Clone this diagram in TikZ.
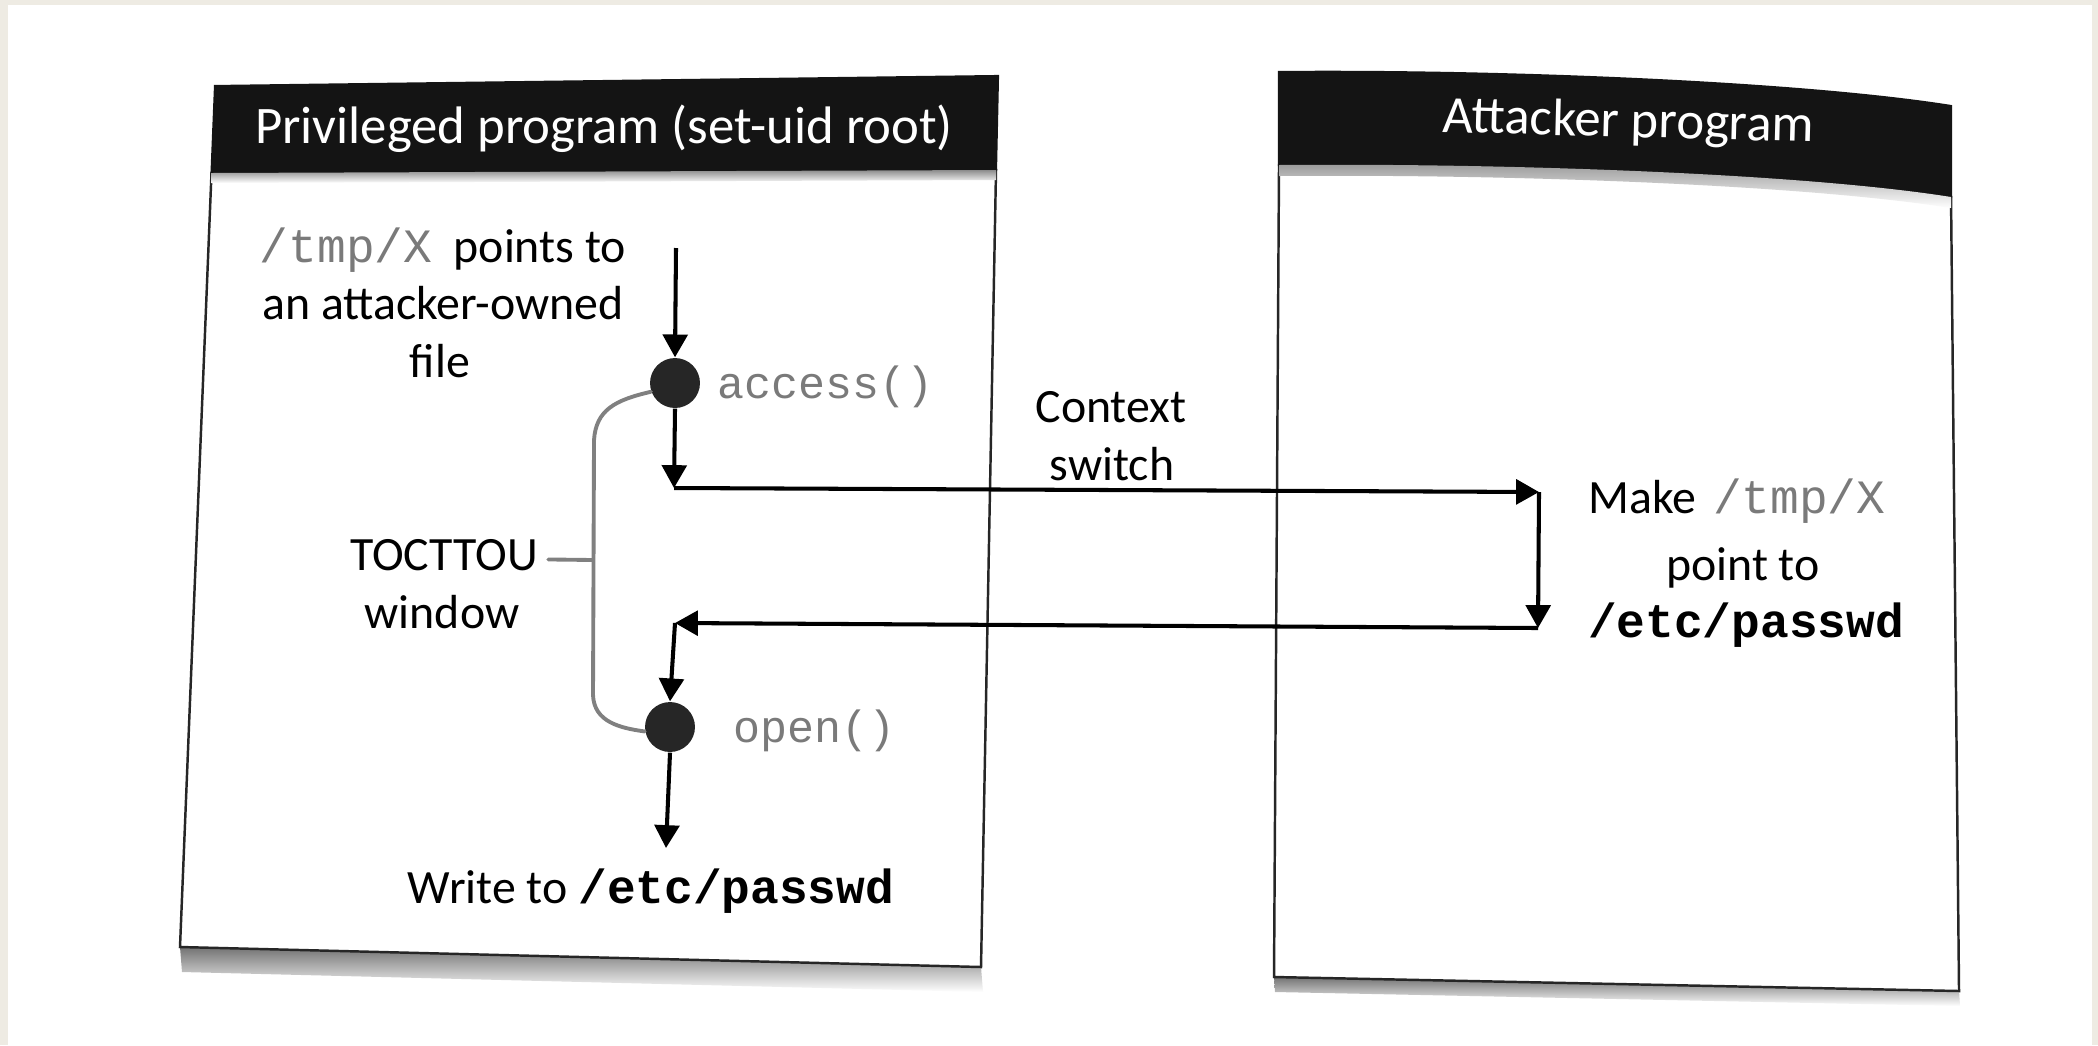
\documentclass[tikz,border=0pt]{standalone}
\usepackage{fontspec}
\setmainfont{Carlito}
\newfontfamily\codefont{Liberation Mono}
\usetikzlibrary{arrows.meta}
\definecolor{paper}{HTML}{EEEBE3}
\definecolor{codegray}{gray}{0.48}

\tikzset{
  frame/.style={draw=black!85, line width=0.7pt, fill=white},
  hdr/.style={fill=black!92, draw=black!92, line width=0.6pt},
  hdrtext/.style={text=white, inner sep=0pt, anchor=base, font=\fontsize{15}{18}\selectfont},
  lbl/.style={inner sep=0pt, anchor=base, font=\fontsize{13.6}{16}\selectfont},
  code/.style={inner sep=0pt, anchor=base west, text=codegray, font=\codefont\fontsize{12.8}{15}\selectfont},
  flow/.style={draw=black, line width=1.15pt, -{Triangle[length=6.5pt,width=7pt]}},
  event/.style={circle, fill=black!85, minimum size=14.2pt, inner sep=0pt},
  bracket/.style={draw=black!50, line width=1.1pt, line cap=round},
  shadowband/.style={top color=black!55, bottom color=white, draw=none}
}

\begin{document}
\begin{tikzpicture}[x=0.01cm, y=-0.01cm]
  \useasboundingbox (0,0) rectangle (2098,1045);
  % page and paper edge
  \fill[paper] (0,0) rectangle (2098,1045);
  \fill[white] (8,5) rectangle (2092,1045);

  % ---------- left frame: privileged program ----------
  \shade[shadowband] (180,947) -- (981,967) -- (983,992) -- (182,972) -- cycle;
  \path[frame] (211.5,173) -- (996,170) -- (981,967) -- (180,947) -- cycle;
  \path[hdr] (215,86) -- (998,76) -- (996,170) -- (211.5,173) -- cycle;
  \shade[top color=black!45, bottom color=white] (211.5,173) -- (996,170) -- (996,180) -- (211,183) -- cycle;
  \node[hdrtext] (privhdr) at (604,143) {Privileged program (set-uid root)};

  % ---------- right frame: attacker program ----------
  \shade[shadowband] (1274,977) -- (1959,991) -- (1960,1006) -- (1275,992) -- cycle;
  \path[frame] (1279,165) .. controls (1500,163) and (1800,173) .. (1951,197)
        -- (1959,991) -- (1274,977) -- cycle;
  \path[hdr] (1279,72) .. controls (1500,70) and (1800,82) .. (1951,106)
        -- (1951,197) .. controls (1800,173) and (1500,163) .. (1279,165) -- cycle;
  \shade[top color=black!40, bottom color=white] (1279,165) .. controls (1500,163) and (1800,173) .. (1951,197)
        -- (1951,208) .. controls (1800,184) and (1500,174) .. (1279,176) -- cycle;
  \node[hdrtext, rotate=-1.5] (atkhdr) at (1628,137) {Attacker program};

  % ---------- texts in the privileged program ----------
  \node[lbl] (tmpa) at (443,262) {{\codefont\color{codegray}/tmp/X}\hspace{0.45em}points to};
  \node[lbl] (tmpb) at (443,319) {an attacker-owned};
  \node[lbl] (tmpc) at (440,377) {file};
  \node[lbl] (toc) at (444,570) {TOCTTOU};
  \node[lbl] (win) at (442,628) {window};
  \node[lbl] (write) at (651,903) {Write to {\codefont\bfseries /etc/passwd}};

  % system calls
  \node[event] (acc) at (675,383) {};
  \node[event] (opn) at (670,727) {};
  \node[code] (accl) at (717,398) {access()};
  \node[code] (opnl) at (733,742) {open()};

  % ---------- context switch ----------
  \node[lbl] (ctx) at (1111,422) {Context};
  \node[lbl] (sw) at (1112,480) {switch};

  % ---------- texts in the attacker program ----------
  \node[lbl] (mk) at (1737,513) {Make\hspace{0.35em}{\codefont\color{codegray}/tmp/X}};
  \node[lbl] (pt) at (1743,580) {point to};
  \node[lbl] (ep) at (1746,637) {\codefont\bfseries /etc/passwd};

  % ---------- control flow ----------
  \coordinate (start) at (676,248);
  \coordinate (c1) at (674,488);
  \coordinate (c2) at (1539,492);
  \coordinate (c3) at (1538,628);
  \coordinate (c4) at (675,623);
  \coordinate (finish) at (666,848);
  \draw[flow] (start) -- (acc.north);
  \draw[flow] (acc.south) -- (c1);
  \draw[flow] (c1) -- (c2);
  \draw[flow] (c2) -- (c3);
  \draw[flow] (c3) -- (c4);
  \draw[flow] (c4) -- (opn.north);
  \draw[flow] (opn.south) -- (finish);

  % ---------- TOCTTOU window bracket ----------
  \coordinate (brk) at (593,560);
  \draw[bracket] (acc.200) .. controls (615,400) and (596,410) .. (594,440)
        -- (593,695) .. controls (594,722) and (620,728) .. (opn.190);
  \draw[bracket] ([xshift=2.8pt,yshift=3pt]toc.base east) -- (brk);
\end{tikzpicture}
\end{document}
